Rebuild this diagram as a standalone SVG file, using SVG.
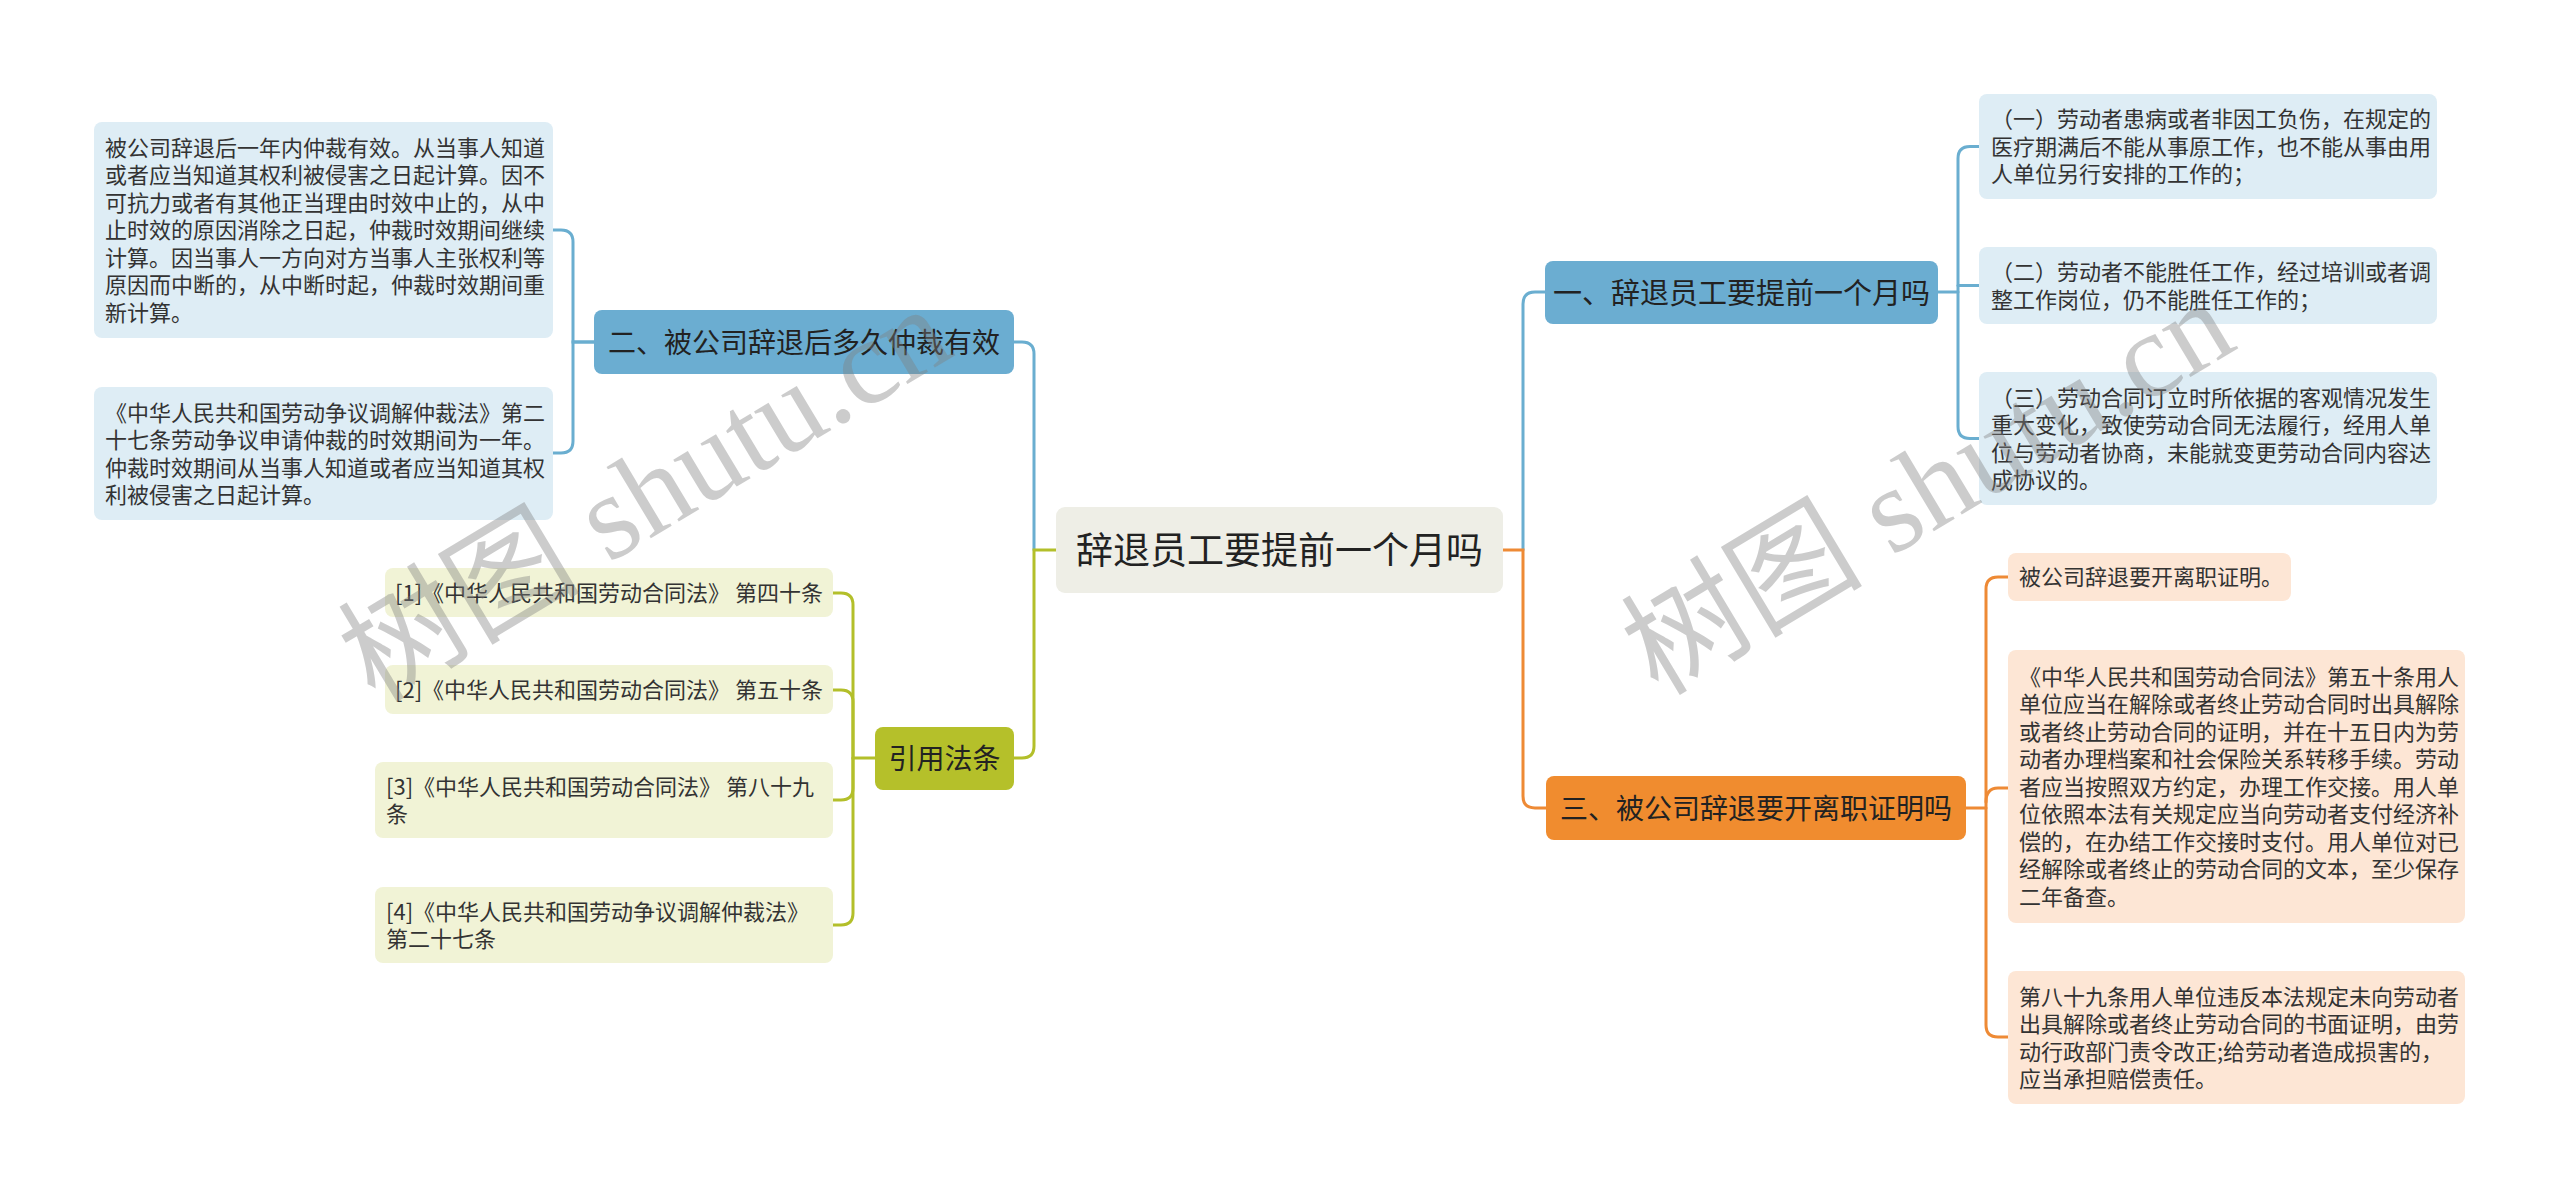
<svg xmlns="http://www.w3.org/2000/svg" width="2560" height="1199" viewBox="0 0 2560 1199">
<style>
text{font-family:"Noto Sans CJK SC","Noto Sans",sans-serif;fill:#333333}
.leaf{font-size:22px}
.cite{font-size:22px}
.main{font-size:28px;text-anchor:middle;fill:#222}
.ln{fill:none;stroke-width:3;stroke-linecap:round}
.b{stroke:#6aaed0}.g{stroke:#b3bf2a}.o{stroke:#ee8a35}
.bl{fill:#deedf5}.gl{fill:#f1f3d6}.ol{fill:#fde6d5}
.wm{font-family:"Liberation Serif","Noto Sans CJK SC",serif;font-size:121px;fill:#808080;fill-opacity:0.4}
</style>
<rect width="2560" height="1199" fill="#ffffff"/>
<g id="connectors">
<path class="ln b" d="M594,342 H573 V242 Q573,230 561,230 H553"/>
<path class="ln b" d="M594,342 H573 V441 Q573,453 561,453 H553"/>
<path class="ln b" d="M1034,550 V354 Q1034,342 1022,342 H1014"/>
<path class="ln g" d="M1056,550 H1034 V746 Q1034,758 1022,758 H1014"/>
<path class="ln g" d="M875,758 H853 V605 Q853,593 841,593 H833"/>
<path class="ln g" d="M853,758 V702 Q853,690 841,690 H833"/>
<path class="ln g" d="M853,758 V788 Q853,800 841,800 H833"/>
<path class="ln g" d="M853,758 V913 Q853,925 841,925 H833"/>
<path class="ln b" d="M1523,550 V304 Q1523,292 1535,292 H1545"/>
<path class="ln o" d="M1503,550 H1523 V796 Q1523,808 1535,808 H1546"/>
<path class="ln b" d="M1938,292 H1958"/>
<path class="ln b" d="M1979,146.5 H1970 Q1958,146.5 1958,158.5 V426.5 Q1958,438.5 1970,438.5 H1979"/>
<path class="ln b" d="M1958,285.5 H1979"/>
<path class="ln o" d="M1966,808 H1986"/>
<path class="ln o" d="M2008,577 H1998 Q1986,577 1986,589 V1025 Q1986,1037 1998,1037 H2008"/>
<path class="ln o" d="M1986,802 Q1986,788 1998,788 H2008"/>
</g>
<g id="root">
<rect x="1056" y="507" width="447" height="86" rx="9" fill="#eeeee6"/>
<text x="1279.5" y="564" style="font-size:37px;text-anchor:middle;fill:#222">辞退员工要提前一个月吗</text>
</g>
<g id="n2">
<rect x="594" y="310" width="420" height="64" rx="8" fill="#6badd1"/>
<text class="main" x="804" y="352.6">二、被公司辞退后多久仲裁有效</text>
</g>
<g id="n2a">
<rect class="bl" x="94" y="122" width="459" height="216" rx="8"/>
<text class="leaf" x="105"><tspan x="105" y="155.9">被公司辞退后一年内仲裁有效。从当事人知道</tspan><tspan x="105" y="183.4">或者应当知道其权利被侵害之日起计算。因不</tspan><tspan x="105" y="210.9">可抗力或者有其他正当理由时效中止的，从中</tspan><tspan x="105" y="238.4">止时效的原因消除之日起，仲裁时效期间继续</tspan><tspan x="105" y="265.9">计算。因当事人一方向对方当事人主张权利等</tspan><tspan x="105" y="293.4">原因而中断的，从中断时起，仲裁时效期间重</tspan><tspan x="105" y="320.9">新计算。</tspan></text>
</g>
<g id="n2b">
<rect class="bl" x="94" y="387" width="459" height="133" rx="8"/>
<text class="leaf" x="105"><tspan x="105" y="420.6">《中华人民共和国劳动争议调解仲裁法》第二</tspan><tspan x="105" y="448.1">十七条劳动争议申请仲裁的时效期间为一年。</tspan><tspan x="105" y="475.6">仲裁时效期间从当事人知道或者应当知道其权</tspan><tspan x="105" y="503.1">利被侵害之日起计算。</tspan></text>
</g>
<g id="n4">
<rect x="875" y="727" width="139" height="63" rx="8" fill="#b5c02a"/>
<text class="main" x="944.5" y="769">引用法条</text>
</g>
<g id="c1">
<rect class="gl" x="385" y="568" width="448" height="49" rx="8"/>
<text class="cite" x="395" y="600.9">[1]《中华人民共和国劳动合同法》 第四十条</text>
</g>
<g id="c2">
<rect class="gl" x="385" y="665" width="448" height="49" rx="8"/>
<text class="cite" x="395" y="697.9">[2]《中华人民共和国劳动合同法》 第五十条</text>
</g>
<g id="c3">
<rect class="gl" x="375" y="762" width="458" height="76" rx="8"/>
<text class="cite" x="386"><tspan x="386" y="794.6">[3]《中华人民共和国劳动合同法》 第八十九</tspan><tspan x="386" y="822.1">条</tspan></text>
</g>
<g id="c4">
<rect class="gl" x="375" y="887" width="458" height="76" rx="8"/>
<text class="cite" x="386"><tspan x="386" y="919.6">[4]《中华人民共和国劳动争议调解仲裁法》</tspan><tspan x="386" y="947.1">第二十七条</tspan></text>
</g>
<g id="n1">
<rect x="1545" y="261" width="393" height="63" rx="8" fill="#6badd1"/>
<text class="main" x="1741.5" y="303.5" style="font-size:29px">一、辞退员工要提前一个月吗</text>
</g>
<g id="n1a">
<rect class="bl" x="1979" y="94" width="458" height="105" rx="8"/>
<text class="leaf" x="1991"><tspan x="1991" y="127.4">（一）劳动者患病或者非因工负伤，在规定的</tspan><tspan x="1991" y="154.9">医疗期满后不能从事原工作，也不能从事由用</tspan><tspan x="1991" y="182.4">人单位另行安排的工作的；</tspan></text>
</g>
<g id="n1b">
<rect class="bl" x="1979" y="247" width="458" height="77" rx="8"/>
<text class="leaf" x="1991"><tspan x="1991" y="280.1">（二）劳动者不能胜任工作，经过培训或者调</tspan><tspan x="1991" y="307.6">整工作岗位，仍不能胜任工作的；</tspan></text>
</g>
<g id="n1c">
<rect class="bl" x="1979" y="372" width="458" height="133" rx="8"/>
<text class="leaf" x="1991"><tspan x="1991" y="405.6">（三）劳动合同订立时所依据的客观情况发生</tspan><tspan x="1991" y="433.1">重大变化，致使劳动合同无法履行，经用人单</tspan><tspan x="1991" y="460.6">位与劳动者协商，未能就变更劳动合同内容达</tspan><tspan x="1991" y="488.1">成协议的。</tspan></text>
</g>
<g id="n3">
<rect x="1546" y="776" width="420" height="64" rx="8" fill="#f08c2f"/>
<text class="main" x="1756" y="818.6">三、被公司辞退要开离职证明吗</text>
</g>
<g id="n3a">
<rect class="ol" x="2008" y="553" width="283" height="48" rx="8"/>
<text class="leaf" x="2019" y="585.4">被公司辞退要开离职证明。</text>
</g>
<g id="n3b">
<rect class="ol" x="2008" y="650" width="457" height="273" rx="8"/>
<text class="leaf" x="2019"><tspan x="2019" y="684.9">《中华人民共和国劳动合同法》第五十条用人</tspan><tspan x="2019" y="712.4">单位应当在解除或者终止劳动合同时出具解除</tspan><tspan x="2019" y="739.9">或者终止劳动合同的证明，并在十五日内为劳</tspan><tspan x="2019" y="767.4">动者办理档案和社会保险关系转移手续。劳动</tspan><tspan x="2019" y="794.9">者应当按照双方约定，办理工作交接。用人单</tspan><tspan x="2019" y="822.4">位依照本法有关规定应当向劳动者支付经济补</tspan><tspan x="2019" y="849.9">偿的，在办结工作交接时支付。用人单位对已</tspan><tspan x="2019" y="877.4">经解除或者终止的劳动合同的文本，至少保存</tspan><tspan x="2019" y="904.9">二年备查。</tspan></text>
</g>
<g id="n3c">
<rect class="ol" x="2008" y="971" width="457" height="133" rx="8"/>
<text class="leaf" x="2019"><tspan x="2019" y="1004.6">第八十九条用人单位违反本法规定未向劳动者</tspan><tspan x="2019" y="1032.1">出具解除或者终止劳动合同的书面证明，由劳</tspan><tspan x="2019" y="1059.6">动行政部门责令改正;给劳动者造成损害的，</tspan><tspan x="2019" y="1087.1">应当承担赔偿责任。</tspan></text>
</g>
<g id="watermarks">
<text class="wm" transform="translate(375,704) rotate(-31)">树图 shutu.cn</text>
<text class="wm" transform="translate(1658,697) rotate(-31)">树图 shutu.cn</text>
</g>
</svg>
